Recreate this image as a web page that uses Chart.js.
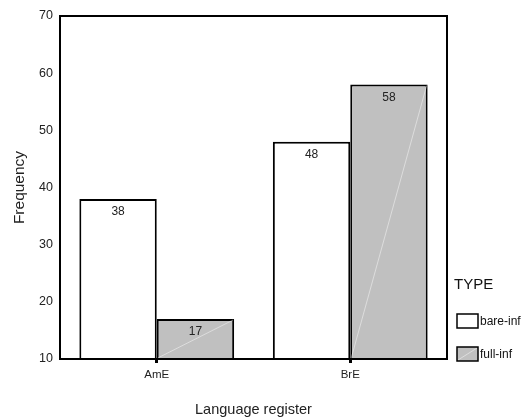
<!DOCTYPE html>
<html>
<head>
<meta charset="utf-8">
<script src="https://cdn.jsdelivr.net/npm/chart.js@4/dist/chart.umd.min.js"></script>
<style>
  html, body { margin: 0; padding: 0; background: #fff; }
  #wrap { width: 524px; height: 419px; }
</style>
</head>
<body>
<div id="wrap"><canvas id="chart" width="524" height="419"></canvas></div>
<script>
const registers = ['AmE', 'BrE'];
const bareInf = [38, 48];
const fullInf = [17, 58];
const yTicks = [10, 20, 30, 40, 50, 60, 70];

const FONT = '"Liberation Sans", Arial, sans-serif';

function faintDiagonal(ctx, x0, y0, x1, y1) {
    ctx.strokeStyle = 'rgba(255,255,255,0.45)';
    ctx.lineWidth = 1;
    ctx.beginPath();
    ctx.moveTo(x0, y0);
    ctx.lineTo(x1, y1);
    ctx.stroke();
}

// value labels, the frame, the faint diagonal inside the grey bars and the legend
const extras = {
    id: 'extras',
    afterDatasetsDraw(chart) {
        const ctx = chart.ctx;
        const area = chart.chartArea;
        ctx.save();
        chart.data.datasets.forEach((ds, i) => {
            chart.getDatasetMeta(i).data.forEach((bar, j) => {
                const base = Math.min(bar.base, area.bottom);
                if (i === 1) {
                    faintDiagonal(ctx, bar.x - bar.width / 2 + 1, base - 1, bar.x + bar.width / 2 - 1, bar.y + 1);
                }
                ctx.fillStyle = '#222';
                ctx.font = '12px ' + FONT;
                ctx.textAlign = 'center';
                ctx.textBaseline = 'middle';
                ctx.fillText(ds.data[j], bar.x, bar.y + 13);
            });
        });
        ctx.strokeStyle = '#000';
        ctx.lineWidth = 2;
        ctx.strokeRect(area.left, area.top, area.right - area.left, area.bottom - area.top);

        // legend
        ctx.fillStyle = '#111';
        ctx.font = '15px ' + FONT;
        ctx.textAlign = 'left';
        ctx.textBaseline = 'middle';
        ctx.fillText('TYPE', 454, 285);
        ctx.font = '12px ' + FONT;
        const items = [['bare-inf', '#ffffff', 321], ['full-inf', '#c0c0c0', 354]];
        items.forEach(([label, color, y], k) => {
            ctx.fillStyle = color;
            ctx.fillRect(457, y - 7, 21, 14);
            if (k === 1) faintDiagonal(ctx, 458, y + 6, 477, y - 6);
            ctx.strokeStyle = '#000';
            ctx.lineWidth = 1.5;
            ctx.strokeRect(457, y - 7, 21, 14);
            ctx.fillStyle = '#111';
            ctx.fillText(label, 480, y + 1);
        });
        ctx.restore();
    }
};

new Chart(document.getElementById('chart'), {
    type: 'bar',
    data: {
        labels: registers,
        datasets: [{
            label: 'bare-inf',
            data: bareInf,
            backgroundColor: '#ffffff',
            borderColor: '#000',
            borderWidth: 2,
            borderSkipped: 'bottom'
        }, {
            label: 'full-inf',
            data: fullInf,
            backgroundColor: '#c0c0c0',
            borderColor: '#000',
            borderWidth: 2,
            borderSkipped: 'bottom'
        }]
    },
    options: {
        responsive: false,
        animation: false,
        layout: { padding: { left: 0, right: 77, top: 16, bottom: 0 } },
        datasets: { bar: { categoryPercentage: 0.8, barPercentage: 1.0 } },
        plugins: {
            legend: { display: false },
            tooltip: { enabled: false }
        },
        scales: {
            x: {
                grid: { display: true, offset: false, drawOnChartArea: false, drawTicks: true, tickLength: 4, tickWidth: 3, tickColor: '#000' },
                border: { display: true, color: '#000', width: 2 },
                ticks: { color: '#222', font: { family: FONT, size: 11.5 }, padding: 5 },
                title: { display: true, text: 'Language register', color: '#222', font: { family: FONT, size: 14.5 }, padding: { top: 0, bottom: 0 } },
                afterFit(scale) { scale.height = 60; }
            },
            y: {
                min: 10,
                max: 70,
                afterBuildTicks(scale) { scale.ticks = yTicks.map(v => ({ value: v })); },
                grid: { display: false, drawTicks: false },
                border: { display: true, color: '#000', width: 2 },
                ticks: { color: '#222', font: { family: FONT, size: 12.5 }, padding: 7 },
                title: { display: true, text: 'Frequency', color: '#222', font: { family: FONT, size: 15.5 }, padding: { top: 10, bottom: 0 } },
                afterFit(scale) { scale.width = 60; }
            }
        }
    },
    plugins: [extras]
});
</script>
</body>
</html>
